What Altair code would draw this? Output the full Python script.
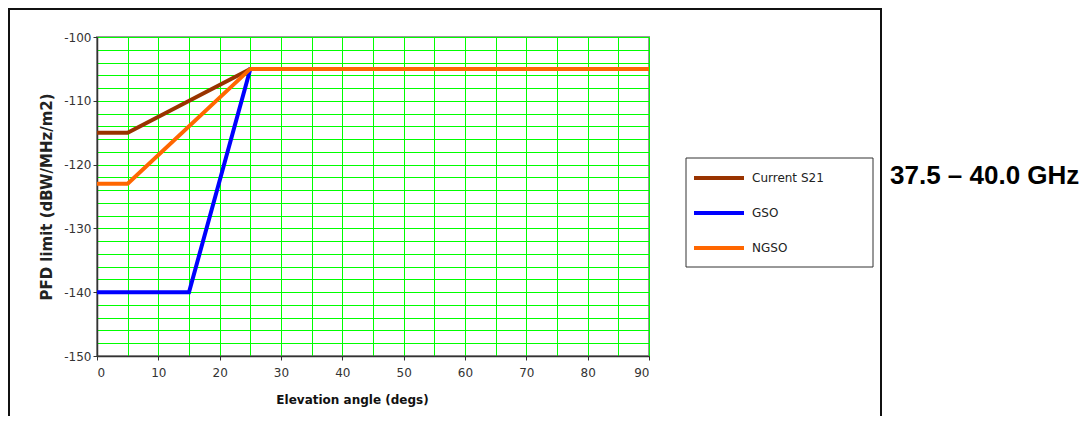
import altair as alt
import pandas as pd

series_names = ["Current  S21", "GSO", "NGSO"]
series_colors = ["#993300", "#0000FF", "#FF6600"]
current_angles = [0, 5, 25, 90]
current_pfd = [-115, -115, -105, -105]
gso_angles = [0, 15, 25, 90]
gso_pfd = [-140, -140, -105, -105]
ngso_angles = [0, 5, 25, 90]
ngso_pfd = [-123, -123, -105, -105]
x_ticks = list(range(0, 91, 10))
x_grid = list(range(0, 91, 5))
y_ticks = list(range(-150, -99, 10))
y_grid = list(range(-150, -99, 2))
band_title = "37.5 – 40.0 GHz"
x_title = "Elevation angle (degs)"
y_title = "PFD limit (dBW/MHz/m2)"

rows = []
for name, angs, vals in zip(series_names,
                            [current_angles, gso_angles, ngso_angles],
                            [current_pfd, gso_pfd, ngso_pfd]):
    for a, v in zip(angs, vals):
        rows.append({"series": name, "angle": a, "pfd": v})
df = pd.DataFrame(rows)
one = pd.DataFrame({"k": [0]})

x_scale = alt.Scale(domain=[0, 90], nice=False, zero=False)
y_scale = alt.Scale(domain=[-150, -100], nice=False, zero=False)

grid = alt.Chart(df).mark_line(opacity=0).encode(
    x=alt.X("angle:Q", scale=x_scale,
            axis=alt.Axis(values=x_grid, grid=True, labels=False, ticks=False,
                          domain=False, title=None, orient="bottom",
                          gridColor="#00FF00", gridWidth=1, gridOpacity=1)),
    y=alt.Y("pfd:Q", scale=y_scale,
            axis=alt.Axis(values=y_grid, grid=True, labels=False, ticks=False,
                          domain=False, title=None, orient="left",
                          gridColor="#00FF00", gridWidth=1, gridOpacity=1)),
    detail="series:N",
)

lines = alt.Chart(df).mark_line(strokeWidth=4).encode(
    x=alt.X("angle:Q", scale=x_scale,
            axis=alt.Axis(values=x_ticks, grid=False, orient="bottom",
                          title=x_title, tickSize=4, labelPadding=7,
                          labelExpr="toString(datum.value)",
                          titleFont="DejaVu Sans", titleFontSize=12,
                          titleFontWeight="bold", titleColor="#111",
                          titleX=255, titleY=47, titleBaseline="alphabetic",
                          titleAlign="center")),
    y=alt.Y("pfd:Q", scale=y_scale,
            axis=alt.Axis(values=y_ticks, grid=False, orient="left",
                          title=y_title, tickSize=4, labelPadding=2,
                          labelExpr="toString(datum.value)",
                          titleFont="DejaVu Sans", titleFontSize=15,
                          titleFontWeight="bold", titleColor="#222",
                          titleAngle=270, titleX=-51, titleY=159.5,
                          titleBaseline="middle", titleAlign="center")),
    color=alt.Color("series:N",
                    scale=alt.Scale(domain=series_names, range=series_colors),
                    legend=alt.Legend(orient="none", legendX=595, legendY=114,
                                      title=None, symbolType="stroke",
                                      symbolSize=2500, symbolStrokeWidth=4,
                                      labelFont="DejaVu Sans", labelFontSize=12,
                                      labelColor="#222", labelOffset=6,
                                      padding=0, rowPadding=-16)),
)

legend_box = alt.Chart(one).mark_rect(fillOpacity=0, stroke="#333", strokeWidth=1).encode(
    x=alt.value(589), x2=alt.value(776), y=alt.value(121), y2=alt.value(230))

frame = alt.Chart(one).mark_rect(fillOpacity=0, stroke="#111", strokeWidth=2).encode(
    x=alt.value(-88), x2=alt.value(784), y=alt.value(-28), y2=alt.value(420))

band = alt.Chart(one).mark_text(text=band_title, font="Liberation Sans",
                                fontWeight="bold", fontSize=26, align="left",
                                baseline="alphabetic", color="#000").encode(
    x=alt.value(793), y=alt.value(147))

chart = alt.layer(frame, grid, lines, legend_box, band).resolve_axis(
    x="independent", y="independent"
).properties(
    width=552, height=319,
    autosize=alt.AutoSizeParams(type="none"),
    padding={"left": 89, "top": 29, "right": 435, "bottom": 60},
).configure_axis(
    labelFont="DejaVu Sans", labelFontSize=12, labelColor="#333",
    tickColor="#333", domainColor="#333", domainWidth=1.5,
).configure_view(stroke="#999", strokeWidth=2)

chart.save("out.html", embed_options={"renderer": "svg", "actions": False})
